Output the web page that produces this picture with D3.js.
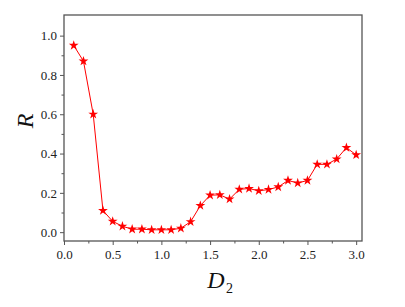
<!DOCTYPE html>
<html>
<head>
<meta charset="utf-8">
<script src="https://cdn.jsdelivr.net/npm/d3@7"></script>
<style>
  body { margin: 0; background: #fff; }
</style>
</head>
<body>
<div id="chart"></div>
<script>
// D2 values and R values
const d2 = [0.1, 0.2, 0.3, 0.4, 0.5, 0.6, 0.7, 0.8, 0.9, 1.0,
            1.1, 1.2, 1.3, 1.4, 1.5, 1.6, 1.7, 1.8, 1.9, 2.0,
            2.1, 2.2, 2.3, 2.4, 2.5, 2.6, 2.7, 2.8, 2.9, 3.0];
const rValues = [0.95, 0.87, 0.60, 0.11, 0.055, 0.03, 0.015, 0.015, 0.012, 0.012,
                 0.012, 0.02, 0.053, 0.135, 0.188, 0.19, 0.168, 0.218, 0.222, 0.21,
                 0.217, 0.23, 0.263, 0.25, 0.263, 0.345, 0.345, 0.372, 0.43, 0.393];
const xTicks = [0.0, 0.5, 1.0, 1.5, 2.0, 2.5, 3.0];
const yTicks = [0.0, 0.2, 0.4, 0.6, 0.8, 1.0];

const W = 405, H = 307;
const margin = { top: 15, right: 43, bottom: 66, left: 64 };
const width = W - margin.left - margin.right;
const height = H - margin.top - margin.bottom;
const serif = 'Liberation Serif';

const svg = d3.select('#chart').append('svg')
    .attr('width', W)
    .attr('height', H)
    .style('font-family', serif);

const g = svg.append('g')
    .attr('transform', `translate(${margin.left},${margin.top})`);

const x = d3.scaleLinear().domain([0, 3.06]).range([0, width]);
const y = d3.scaleLinear().domain([-0.045, 1.105]).range([height, 0]);

const axisColor = '#555';

// minor ticks
const xMinor = d3.range(0.25, 3.01, 0.5);
const yMinor = d3.range(0.1, 1.01, 0.2);

const xAxis = g.append('g')
    .attr('transform', `translate(0,${height})`)
    .call(d3.axisBottom(x).tickValues(xTicks).tickFormat(d3.format('.1f')).tickSize(4).tickPadding(5));
const xAxisMinor = g.append('g')
    .attr('transform', `translate(0,${height})`)
    .call(d3.axisBottom(x).tickValues(xMinor).tickFormat('').tickSize(2.5));

const yAxis = g.append('g')
    .call(d3.axisLeft(y).tickValues(yTicks).tickFormat(d3.format('.1f')).tickSize(4).tickPadding(3));
const yAxisMinor = g.append('g')
    .call(d3.axisLeft(y).tickValues(yMinor).tickFormat('').tickSize(2.5));

[xAxis, xAxisMinor, yAxis, yAxisMinor].forEach(a => {
    a.attr('font-family', null).attr('font-size', 13);
    a.select('.domain').remove();
    a.selectAll('line').attr('stroke', axisColor).attr('stroke-width', 1);
    a.selectAll('text').attr('fill', '#222').style('font-family', serif);
});

// frame
g.append('rect')
    .attr('x', 0).attr('y', 0)
    .attr('width', width).attr('height', height)
    .attr('fill', 'none')
    .attr('stroke', axisColor)
    .attr('stroke-width', 1.3);

// line
const line = d3.line()
    .x((d, i) => x(d2[i]))
    .y(d => y(d));

g.append('path')
    .datum(rValues)
    .attr('fill', 'none')
    .attr('stroke', '#ff0000')
    .attr('stroke-width', 1)
    .attr('d', line);

// star markers
g.selectAll('.star')
    .data(rValues)
    .enter()
    .append('path')
    .attr('class', 'star')
    .attr('d', d3.symbol().type(d3.symbolStar).size(30))
    .attr('transform', (d, i) => `translate(${x(d2[i])},${y(d)})`)
    .attr('fill', '#ff0000');

// axis titles
svg.append('text')
    .attr('x', 216)
    .attr('y', 288)
    .attr('text-anchor', 'middle')
    .attr('font-size', 24)
    .attr('font-style', 'italic')
    .attr('fill', '#111')
    .text('D');
svg.append('text')
    .attr('x', 226)
    .attr('y', 293)
    .attr('font-size', 14)
    .attr('fill', '#111')
    .text('2');

svg.append('text')
    .attr('transform', 'translate(33,121) rotate(-90)')
    .attr('text-anchor', 'middle')
    .attr('font-size', 24)
    .attr('font-style', 'italic')
    .attr('fill', '#111')
    .text('R');
</script>
</body>
</html>
